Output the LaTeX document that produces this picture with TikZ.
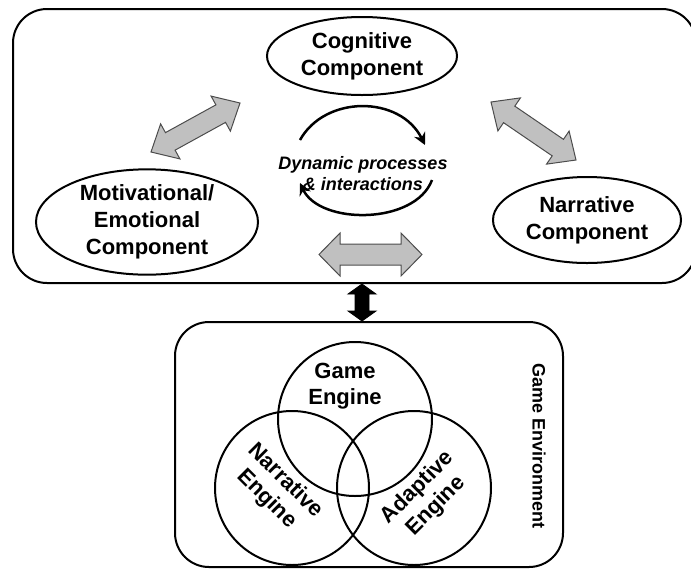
\documentclass[tikz,border=0pt]{standalone}
\usepackage{fontspec}
\setmainfont{Liberation Sans}
\usetikzlibrary{shapes.geometric,arrows.meta,calc}

\definecolor{arrowgray}{RGB}{192,192,192}

% block arrow with two heads: from, to, head length, head half width, shaft half width, style
\newcommand{\blockarrow}[6]{%
  \draw[#6] (#1)
    -- ($(#1)!#3!(#2)!#4!90:(#2)$) -- ($(#1)!#3!(#2)!#5!90:(#2)$)
    -- ($(#2)!#3!(#1)!#5!-90:(#1)$) -- ($(#2)!#3!(#1)!#4!-90:(#1)$)
    -- (#2)
    -- ($(#2)!#3!(#1)!#4!90:(#1)$) -- ($(#2)!#3!(#1)!#5!90:(#1)$)
    -- ($(#1)!#3!(#2)!#5!-90:(#2)$) -- ($(#1)!#3!(#2)!#4!-90:(#2)$)
    -- cycle;}

\tikzset{
  comp/.style={ellipse, draw, line width=1pt, align=center, inner sep=0pt,
    font=\bfseries\fontsize{11}{13.5}\selectfont},
  frame/.style={draw, line width=1pt, rounded corners=17pt, inner sep=0pt},
  engine/.style={circle, draw, line width=1pt, minimum size=77pt, inner sep=0pt},
  enginelab/.style={align=center, font=\bfseries\fontsize{11}{13}\selectfont},
  grayarrow/.style={fill=arrowgray, draw=black!70, line width=0.5pt},
  cyclearrow/.style={line width=1.25pt, -{Stealth[length=6pt,width=6pt]}}
}

\begin{document}
\begin{tikzpicture}[x=0.5pt,y=0.5pt,yscale=-1]
\useasboundingbox (0,0) rectangle (691,569);

%Frames
\node[frame, minimum width=341.5pt, minimum height=137pt] (mind) at (354.5,146) {};
\node[frame, minimum width=194pt, minimum height=122.5pt] (env) at (369,444.5) {};

%Components
\node[comp, minimum width=95pt, minimum height=39pt] (cog) at (362,56) {Cognitive\\Component};
\node[comp, minimum width=111pt, minimum height=51.5pt] (mot) at (147,222) {Motivational/\\Emotional\\Component};
\node[comp, minimum width=94pt, minimum height=43pt] (nar) at (587,220) {Narrative\\Component};

%Dynamic processes
\node[align=center, font=\bfseries\itshape\fontsize{9}{10.5}\selectfont] (dyn) at (363,174) {Dynamic processes\\\& interactions};
\coordinate (upS) at (300,140);
\coordinate (upE) at (425,145);
\coordinate (loS) at (432,180);
\coordinate (loE) at (300,183);
\draw[cyclearrow] (upS) .. controls (325,95) and (400,95) .. (upE);
\draw[cyclearrow] (loS) .. controls (415,225) and (320,225) .. (loE);

%Gray block arrows
\coordinate (cogL) at (240,103);
\coordinate (motU) at (151,152);
\coordinate (cogR) at (491,102);
\coordinate (narU) at (576,160);
\coordinate (dynL) at (319,254.5);
\coordinate (dynR) at (422,254.5);
\blockarrow{motU}{cogL}{11pt}{10pt}{5pt}{grayarrow}
\blockarrow{cogR}{narU}{11pt}{10pt}{5pt}{grayarrow}
\blockarrow{dynL}{dynR}{10.5pt}{10.75pt}{5.25pt}{grayarrow}

%Link between the frames
\coordinate (linkT) at (mind.south -| cog);
\coordinate (linkB) at (env.north -| cog);
\blockarrow{linkT}{linkB}{5pt}{7pt}{3.5pt}{fill=black}

%Venn of engines
\node[engine] (ge) at (355,419) {};
\node[engine] (ne) at (292,488) {};
\node[engine] (ae) at (414,488) {};
\node[enginelab] (gelab) at (345,386) {Game\\Engine};
\node[enginelab, rotate=-45] (nelab) at (276,490) {Narrative\\Engine};
\node[enginelab, rotate=45] (aelab) at (427,497) {Adaptive\\Engine};
\node[rotate=-90, font=\bfseries\fontsize{9}{10}\selectfont] (envlab) at (539,446) {Game Environment};

\end{tikzpicture}
\end{document}
